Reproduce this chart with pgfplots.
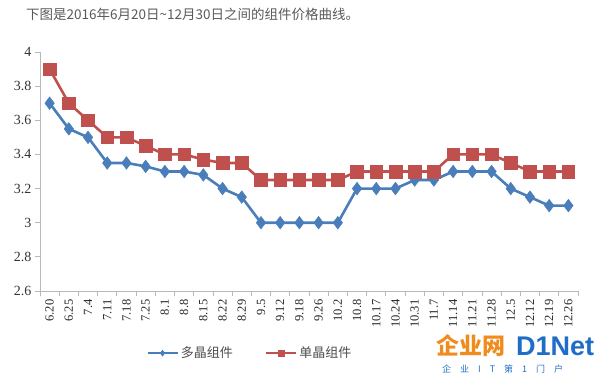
\documentclass[border=0pt]{standalone}
\usepackage{pgfplots}
\pgfplotsset{compat=1.18}
\usepackage{fontspec}
\setmainfont{Liberation Serif}
\newfontfamily\cjk{Noto Sans CJK SC}
\newfontfamily\sans{Liberation Sans}
\definecolor{bl}{RGB}{74,126,187}
\definecolor{rd}{RGB}{192,80,77}
\definecolor{ax}{RGB}{185,185,185}
\definecolor{og}{RGB}{240,140,30}
\definecolor{db}{RGB}{30,110,200}
\begin{document}
\begin{tikzpicture}
\useasboundingbox (0pt,0pt) rectangle (600pt,376pt);
\node[anchor=west, font=\cjk\fontsize{13.5}{15}\selectfont, text=black!65, inner sep=0] at (26pt,362pt) {下图是2016年6月20日\textasciitilde 12月30日之间的组件价格曲线。};
\begin{axis}[at={(40pt,85pt)}, anchor=south west, scale only axis,
  width=538pt, height=239pt,
  xmin=-0.5, xmax=27.5, ymin=2.6, ymax=4,
  axis x line*=bottom, axis y line*=left,
  axis line style={ax, line width=1pt},
  ytick={2.6,2.8,3,3.2,3.4,3.6,3.8,4},
  /pgf/number format/assume math mode=true,
  yticklabel style={font=\fontsize{14}{16}\selectfont, text=black!80},
  xtick={0,...,27},
  xticklabels={6.20,6.25,7.4,7.11,7.18,7.25,8.1,8.8,8.15,8.22,8.29,9.5,9.12,9.18,9.26,10.2,10.8,10.17,10.24,10.31,11.7,11.14,11.21,11.28,12.5,12.12,12.19,12.26},
  xticklabel style={rotate=90, anchor=east, font=\fontsize{12.5}{14}\selectfont, text=black!85},
  major x tick style={draw=none},
  minor xtick={-0.5,0.5,...,27.5},
  minor tick length=5pt, major tick length=5pt,
  tick align=outside,
  tick style={ax, line width=0.8pt},
  legend style={at={(0.39,-0.26)}, anchor=center, draw=none, fill=none,
    legend columns=2, font=\cjk\fontsize{13}{15}\selectfont, text=black!70,
    /tikz/every even column/.append style={column sep=30pt}},
  legend image code/.code={\draw[#1, mark repeat=2, mark phase=2, mark size=3pt] plot coordinates {(0pt,0pt) (15pt,0pt) (30pt,0pt)};},
  clip=false,
]
\addplot[bl, line width=2.6pt, mark=diamond*, mark size=6.3pt, mark options={solid, fill=bl, draw=bl, line width=0.5pt}]
  coordinates {(0,3.7)(1,3.55)(2,3.5)(3,3.35)(4,3.35)(5,3.33)(6,3.3)(7,3.3)(8,3.28)(9,3.2)(10,3.15)(11,3.0)(12,3.0)(13,3.0)(14,3.0)(15,3.0)(16,3.2)(17,3.2)(18,3.2)(19,3.25)(20,3.25)(21,3.3)(22,3.3)(23,3.3)(24,3.2)(25,3.15)(26,3.1)(27,3.1)};
\addlegendentry{多晶组件}
\addplot[rd, line width=2.6pt, mark=square*, mark size=6.3pt, mark options={solid, fill=rd, draw=rd, line width=0.5pt}]
  coordinates {(0,3.9)(1,3.7)(2,3.6)(3,3.5)(4,3.5)(5,3.45)(6,3.4)(7,3.4)(8,3.37)(9,3.35)(10,3.35)(11,3.25)(12,3.25)(13,3.25)(14,3.25)(15,3.25)(16,3.3)(17,3.3)(18,3.3)(19,3.3)(20,3.3)(21,3.4)(22,3.4)(23,3.4)(24,3.35)(25,3.3)(26,3.3)(27,3.3)};
\addlegendentry{单晶组件}
\end{axis}
\node[anchor=west, inner sep=0, font=\cjk\bfseries\fontsize{23}{24}\selectfont, text=og] at (436pt,30pt) {企业网};
\node[anchor=west, inner sep=0, font=\sans\bfseries\fontsize{27}{28}\selectfont, text=db] at (516pt,30pt) {D1Net};
\node[anchor=west, inner sep=0, font=\cjk\fontsize{9}{10}\selectfont, text=db] at (442pt,7pt) {企\hspace{9pt}业\hspace{9pt}I\hspace{9pt}T\hspace{9pt}第\hspace{9pt}1\hspace{9pt}门\hspace{9pt}户};
\end{tikzpicture}
\end{document}
